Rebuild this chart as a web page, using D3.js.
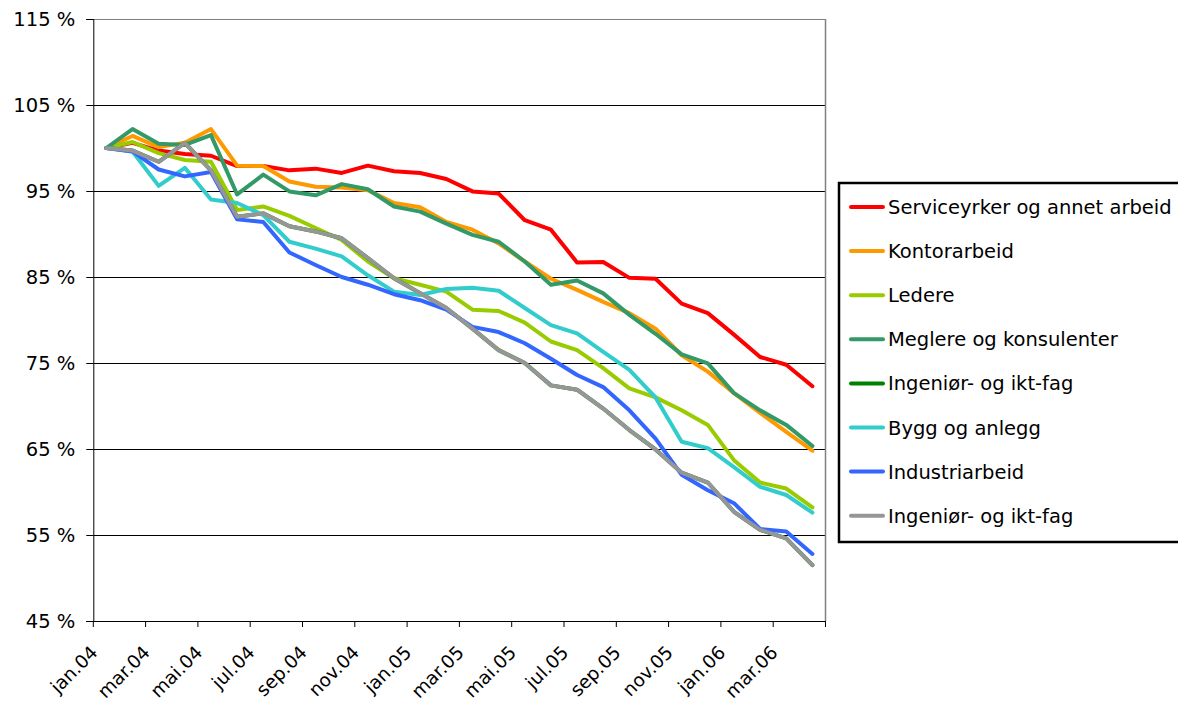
<!DOCTYPE html>
<html>
<head>
<meta charset="utf-8">
<script src="https://cdn.jsdelivr.net/npm/d3@7/dist/d3.min.js"></script>
<style>
  html, body { margin: 0; padding: 0; background: #fff; }
  svg { display: block; }
  text { font-family: "DejaVu Sans", Verdana, sans-serif; fill: #000; }
</style>
</head>
<body>
<svg id="chart" width="1178" height="704"></svg>
<script>
// ---- Data ----
const months = ["jan","feb","mar","apr","mai","jun","jul","aug","sep","okt","nov","des"];
const categories = [];
for (let yr = 4; yr <= 6; yr++) {
  for (let m = 0; m < 12; m++) {
    if (yr === 6 && m > 3) break;
    categories.push(months[m] + ".0" + yr);
  }
}
const yTicks = [45, 55, 65, 75, 85, 95, 105, 115];

const seriesNames = [
  "Serviceyrker og annet arbeid",
  "Kontorarbeid",
  "Ledere",
  "Meglere og konsulenter",
  "Ingeniør- og ikt-fag",
  "Bygg og anlegg",
  "Industriarbeid",
  "Ingeniør- og ikt-fag"
];
const seriesColors = ["#FF0000", "#FF9900", "#99CC00", "#339966", "#008000", "#33CCCC", "#3366FF", "#969696"];

const service = [100, 100.6, 99.7, 99.3, 99.1, 97.9, 97.9, 97.4, 97.6, 97.1, 97.95, 97.3, 97.1, 96.4, 94.95, 94.7, 91.6, 90.5, 86.7, 86.75, 84.9, 84.8, 81.9, 80.8, 78.3, 75.7, 74.8, 72.3];
const kontor  = [100, 101.4, 100.1, 100.6, 102.2, 97.95, 97.9, 96.1, 95.5, 95.4, 95.1, 93.6, 93.1, 91.4, 90.5, 88.9, 86.8, 84.8, 83.5, 82.1, 80.8, 79.0, 75.9, 74.0, 71.5, 69.2, 67.0, 64.8];
const ledere  = [100, 100.7, 99.4, 98.6, 98.4, 92.8, 93.2, 92.1, 90.7, 89.3, 86.8, 84.85, 84.1, 83.3, 81.2, 81.05, 79.7, 77.5, 76.5, 74.4, 72.05, 71.0, 69.5, 67.8, 63.7, 61.1, 60.4, 58.2];
const meglere = [100, 102.2, 100.5, 100.35, 101.5, 94.6, 96.9, 94.95, 94.5, 95.8, 95.2, 93.2, 92.6, 91.2, 89.9, 89.1, 86.8, 84.1, 84.6, 83.1, 80.6, 78.4, 76.0, 74.95, 71.5, 69.5, 67.8, 65.35];
const ingenior = [100, 99.7, 98.4, 100.6, 97.4, 92.0, 92.4, 90.9, 90.3, 89.5, 87.2, 84.85, 83.1, 81.4, 79.0, 76.5, 75.0, 72.4, 71.9, 69.7, 67.2, 64.95, 62.25, 61.1, 57.7, 55.6, 54.6, 51.5];
const bygg    = [100, 99.6, 95.6, 97.7, 94.0, 93.6, 92.2, 89.1, 88.3, 87.4, 85.2, 83.3, 82.9, 83.6, 83.75, 83.4, 81.4, 79.4, 78.45, 76.3, 74.2, 71.0, 65.85, 65.1, 62.9, 60.6, 59.65, 57.6];
const industri = [100, 99.6, 97.5, 96.7, 97.2, 91.7, 91.4, 87.85, 86.4, 85.0, 84.1, 83.0, 82.3, 81.2, 79.2, 78.6, 77.3, 75.5, 73.6, 72.2, 69.5, 66.2, 62.0, 60.2, 58.7, 55.7, 55.4, 52.8];
const ingeniorGray = ingenior;

const seriesValues = [service, kontor, ledere, meglere, ingenior, bygg, industri, ingeniorGray];

(function () {
  const svg = d3.select("#chart");
  const mLeft = 93.3, mRight = 825.5, mTop = 19, mBottom = 621;

  const x = d3.scaleBand().domain(categories).range([mLeft, mRight]).padding(0);
  const y = d3.scaleLinear().domain([45, 115]).range([mBottom, mTop]);

  // gridlines
  svg.append("g").selectAll("line")
    .data(yTicks.filter(t => t > 45 && t < 115))
    .join("line")
    .attr("x1", mLeft).attr("x2", mRight)
    .attr("y1", d => Math.round(y(d)) + 0.5).attr("y2", d => Math.round(y(d)) + 0.5)
    .attr("stroke", "#000").attr("stroke-width", 1);

  // plot border top & right (gray)
  svg.append("line").attr("x1", mLeft).attr("x2", mRight).attr("y1", mTop + 0.5).attr("y2", mTop + 0.5)
    .attr("stroke", "#808080");
  svg.append("line").attr("x1", mRight).attr("x2", mRight).attr("y1", mTop).attr("y2", mBottom)
    .attr("stroke", "#808080").attr("stroke-width", 1.5);

  // y axis
  const yAxis = d3.axisLeft(y).tickValues(yTicks).tickSize(7).tickPadding(11)
    .tickFormat(d => d + " %");
  const gy = svg.append("g").attr("transform", `translate(${mLeft},0)`).call(yAxis);
  gy.select(".domain").attr("stroke", "#000");
  gy.selectAll(".tick line").attr("stroke", "#000");
  gy.selectAll("text").style("font-size", "19.5px").style("font-family", "DejaVu Sans, Verdana, sans-serif").attr("fill", "#000");

  // x axis
  const tickCats = categories.filter((c, i) => i % 2 === 0);
  const xAxis = d3.axisBottom(x).tickValues(tickCats).tickSize(6).tickSizeOuter(0);
  const gx = svg.append("g").attr("transform", `translate(0,${mBottom})`).call(xAxis);
  gx.select(".domain").attr("stroke", "#000");
  gx.selectAll(".tick").attr("transform", d => `translate(${x(d)},0)`);
  gx.selectAll(".tick line").attr("stroke", "#000");
  gx.append("line").attr("x1", mRight).attr("x2", mRight).attr("y1", 0).attr("y2", 6)
    .attr("stroke", "#000");
  gx.selectAll(".tick text")
    .attr("text-anchor", "end")
    .attr("x", 0).attr("y", 0).attr("dy", "0.35em")
    .attr("transform", "translate(1,28) rotate(-45)")
    .style("font-size", "18.5px").style("font-family", "DejaVu Sans, Verdana, sans-serif").attr("fill", "#000");

  // lines
  const line = d3.line()
    .x((d, i) => x(categories[i]) + x.bandwidth() / 2)
    .y(d => y(d));

  svg.append("g").selectAll("path")
    .data(seriesValues)
    .join("path")
    .attr("d", d => line(d))
    .attr("fill", "none")
    .attr("stroke", (d, i) => seriesColors[i])
    .attr("stroke-width", 4)
    .attr("stroke-linejoin", "round")
    .attr("stroke-linecap", "round");

  // legend
  const lg = svg.append("g");
  lg.append("rect").attr("x", 839).attr("y", 183).attr("width", 360).attr("height", 359)
    .attr("fill", "#fff").attr("stroke", "#000").attr("stroke-width", 2.5);
  const entries = lg.selectAll("g.entry").data(seriesNames).join("g")
    .attr("class", "entry")
    .attr("transform", (d, i) => `translate(0,${207 + i * 44.1})`);
  entries.append("line").attr("x1", 851).attr("x2", 883).attr("y1", 0).attr("y2", 0)
    .attr("stroke", (d, i) => seriesColors[i]).attr("stroke-width", 4).attr("stroke-linecap", "round");
  entries.append("text").attr("x", 888).attr("y", 0).attr("dy", "0.36em")
    .style("font-size", "19.5px").text(d => d);
})();
</script>
</body>
</html>
